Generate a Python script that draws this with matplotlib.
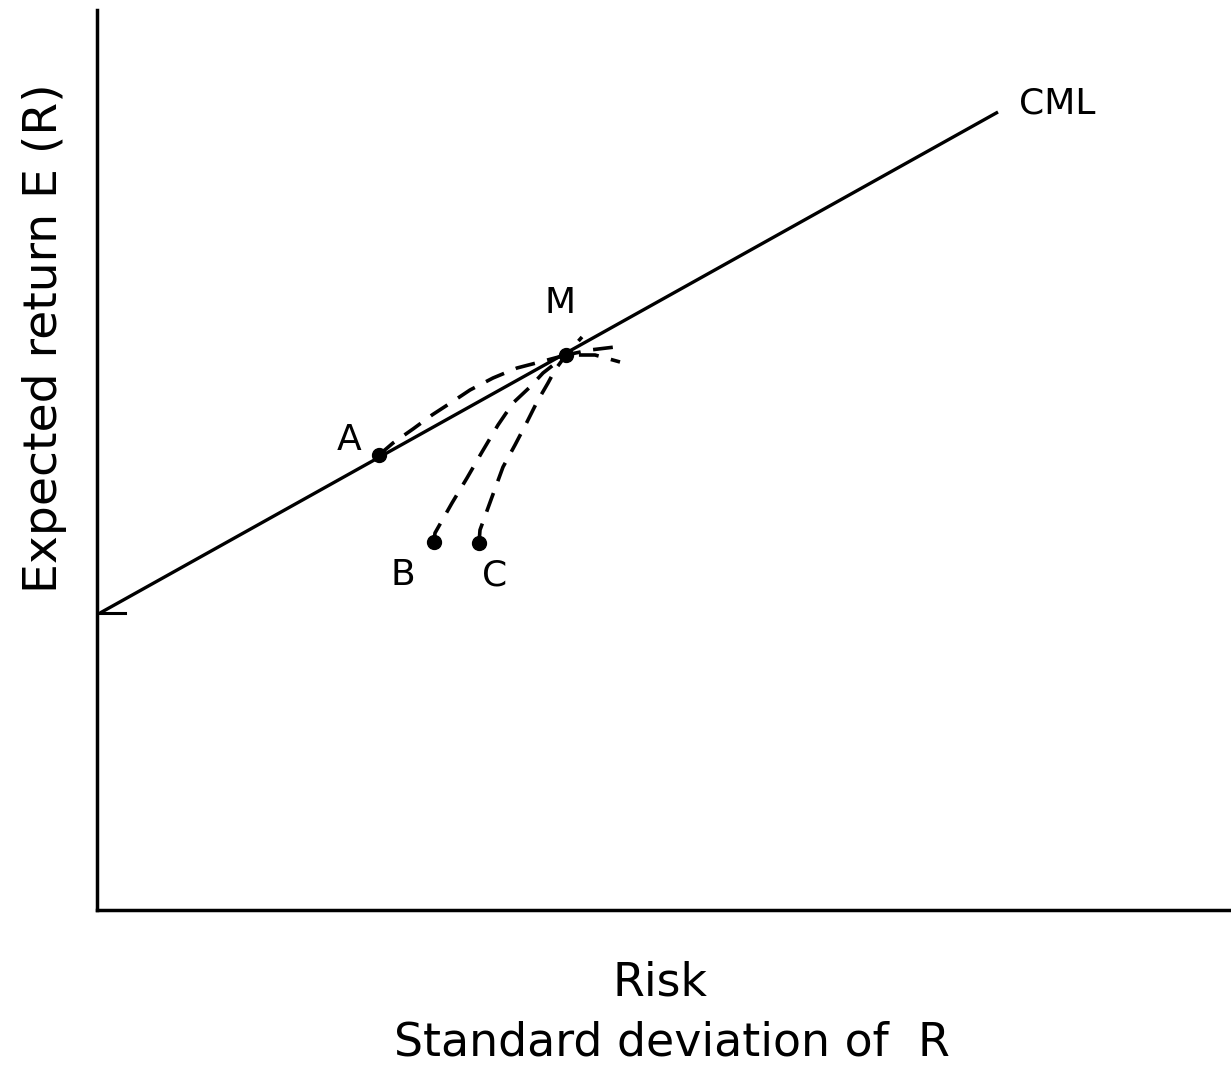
import matplotlib.pyplot as plt

# Linea CML (riesgo, rendimiento esperado)
cml_x = [0.03, 9.01]
cml_y = [2.97, 7.98]
rf = 2.97

# Puntos de las carteras
pt_names = ['M', 'A', 'B', 'C']
pt_x = [4.69, 2.82, 3.37, 3.82]
pt_y = [5.55, 4.55, 3.68, 3.67]

# Curvas punteadas hacia M
curve_a_x = [2.82, 2.96, 3.16, 3.35, 3.55, 3.73, 3.96, 4.20, 4.43, 4.69, 4.98, 5.23]
curve_a_y = [4.55, 4.67, 4.81, 4.95, 5.08, 5.20, 5.32, 5.42, 5.48, 5.55, 5.55, 5.48]
curve_b_x = [3.37, 3.38, 3.55, 3.70, 3.85, 4.01, 4.16, 4.33, 4.46, 4.69, 4.93, 5.18]
curve_b_y = [3.68, 3.77, 4.07, 4.32, 4.58, 4.85, 5.07, 5.23, 5.37, 5.55, 5.60, 5.63]
curve_c_x = [3.82, 3.83, 3.95, 4.06, 4.18, 4.30, 4.40, 4.51, 4.58, 4.69, 4.85]
curve_c_y = [3.67, 3.80, 4.13, 4.43, 4.65, 4.88, 5.08, 5.27, 5.40, 5.55, 5.73]

fig = plt.figure(figsize=(12.31, 10.73), dpi=100)
ax = fig.add_axes([97 / 1231, 163 / 1073, 1134 / 1231, 900 / 1073])
ax.set_xlim(0, 11.34)
ax.set_ylim(0, 9.0)

# Ejes
for s in ['top', 'right']:
    ax.spines[s].set_visible(False)
for s in ['left', 'bottom']:
    ax.spines[s].set_linewidth(2.5)
ax.set_xticks([])
ax.set_yticks([])

# Linea CML y marca de la tasa libre de riesgo
ax.plot(cml_x, cml_y, color='black', lw=2.4, solid_capstyle='butt')
ax.plot([0, 0.28], [rf, rf], color='black', lw=2.2)

# Curvas punteadas
for cx, cy in [(curve_a_x, curve_a_y), (curve_b_x, curve_b_y), (curve_c_x, curve_c_y)]:
    ax.plot(cx, cy, color='black', lw=2.6, dashes=(5.5, 3.5))

# Puntos
ax.plot(pt_x, pt_y, 'o', color='black', markersize=10, zorder=5)

# Etiquetas de los puntos
lab_kw = dict(fontsize=26, color='black', ha='center', va='center')
ax.text(9.22, 8.06, 'CML', ha='left', va='center', fontsize=26)
ax.text(4.63, 6.07, 'M', **lab_kw)
ax.text(2.52, 4.70, 'A', **lab_kw)
ax.text(3.06, 3.35, 'B', **lab_kw)
ax.text(3.98, 3.35, 'C', **lab_kw)

# Titulos de los ejes
fig.text(45 / 1231, 1 - 338 / 1073, 'Expected return E (R)', rotation=90,
         ha='center', va='center', fontsize=34)
fig.text(660 / 1231, 1 - 983 / 1073, 'Risk', ha='center', va='center', fontsize=33)
fig.text(672 / 1231, 1 - 1043 / 1073, 'Standard deviation of  R',
         ha='center', va='center', fontsize=33)

fig.savefig('out.png', dpi=100)
